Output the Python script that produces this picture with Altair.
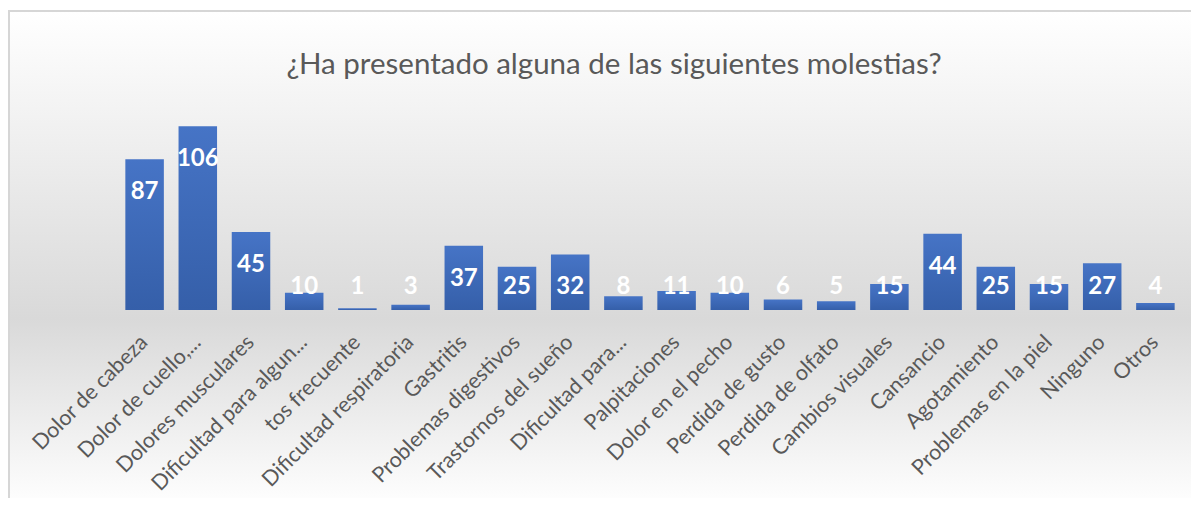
import altair as alt
import pandas as pd

categories = [
    "Dolor de cabeza", "Dolor de cuello,...", "Dolores musculares",
    "Dificultad para algun...", "tos frecuente", "Dificultad respiratoria",
    "Gastritis", "Problemas digestivos", "Trastornos del sueño",
    "Dificultad para...", "Palpitaciones", "Dolor en el pecho",
    "Perdida de gusto", "Perdida de olfato", "Cambios visuales",
    "Cansancio", "Agotamiento", "Problemas en la piel", "Ninguno", "Otros",
]
values = [87, 106, 45, 10, 1, 3, 37, 25, 32, 8, 11, 10, 6, 5, 15, 44, 25, 15, 27, 4]

title_text = "¿Ha presentado alguna de las siguientes molestias?"

df = pd.DataFrame({"cat": categories, "val": values})

W, H = 1064, 208
PAD = {"left": 110, "top": 94, "right": 9, "bottom": 188}

bg_grad = alt.LinearGradient(
    gradient="linear",
    stops=[
        alt.GradientStop(color="#ffffff", offset=0),
        alt.GradientStop(color="#d9d9d9", offset=0.62),
        alt.GradientStop(color="#ffffff", offset=1),
    ],
    x1=0, x2=0, y1=0, y2=1,
)

bar_grad = alt.LinearGradient(
    gradient="linear",
    stops=[
        alt.GradientStop(color="#4674c6", offset=0),
        alt.GradientStop(color="#355fa9", offset=1),
    ],
    x1=0, x2=0, y1=0, y2=1,
)

one = pd.DataFrame({"t": [title_text]})

bg = alt.Chart(one).mark_rect(
    color=bg_grad, stroke="#d6d6d6", strokeWidth=2
).encode(
    x=alt.value(-109), x2=alt.value(W + PAD["right"] + 10),
    y=alt.value(-91), y2=alt.value(H + PAD["bottom"] + 10),
)

title = alt.Chart(one).mark_text(
    font="Lato", fontSize=29.5, color="#595959", baseline="alphabetic", align="center"
).encode(
    x=alt.value(496), y=alt.value(-28), text="t:N",
)

xenc = alt.X(
    "cat:N", sort=categories, title=None,
    scale=alt.Scale(paddingInner=0.276, paddingOuter=0.138),
    axis=alt.Axis(
        labelAngle=-45, labelAlign="right", labelBaseline="middle",
        labelFont="Lato", labelFontSize=21.5, labelColor="#595959",
        labelPadding=29, labelLimit=400, domain=False, ticks=False, grid=False,
        zindex=1,
    ),
)
yscale = alt.Scale(domain=[0, 120], nice=False)

bars = alt.Chart(df).mark_bar(color=bar_grad).encode(
    x=xenc,
    y=alt.Y("val:Q", scale=yscale, axis=None),
)

labels = alt.Chart(df).transform_calculate(
    pos="max(datum.val - 19, 13.3)"
).mark_text(
    font="Lato", fontWeight="bold", fontSize=24, color="white", baseline="middle"
).encode(
    x=alt.X("cat:N", sort=categories),
    y=alt.Y("pos:Q", scale=yscale, axis=None),
    text="val:Q",
)

chart = alt.layer(bg, title, bars, labels).properties(
    width=W, height=H,
    padding=PAD,
    autosize=alt.AutoSizeParams(type="none"),
).configure_view(stroke=None).configure(background="#ffffff")

chart.save("out.html", embed_options={"renderer": "svg", "actions": False})
